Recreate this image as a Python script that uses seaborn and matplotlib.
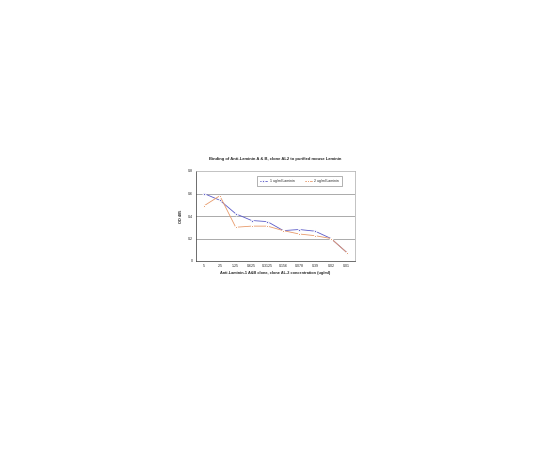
import pandas as pd
import matplotlib
matplotlib.use('Agg')
import matplotlib.pyplot as plt
import seaborn as sns

concentrations = ['5', '2.5', '1.25', '0.625', '0.3125', '0.156', '0.078', '0.39', '0.02', '0.01']
laminin_1ug = [0.60, 0.54, 0.42, 0.36, 0.35, 0.27, 0.28, 0.265, 0.20, 0.075]
laminin_2ug = [0.49, 0.58, 0.30, 0.31, 0.31, 0.27, 0.24, 0.225, 0.20, 0.075]
series_names = ['1 ug/ml Laminin', '2 ug/ml Laminin']
y_ticks = [0, 0.2, 0.4, 0.6, 0.8]

rows = []
for i, c in enumerate(concentrations):
    rows.append({'pos': i, 'conc': c, 'OD': laminin_1ug[i], 'series': series_names[0]})
    rows.append({'pos': i, 'conc': c, 'OD': laminin_2ug[i], 'series': series_names[1]})
df = pd.DataFrame(rows)

sns.set_style('white')
plt.rcParams['font.family'] = ['Liberation Sans', 'DejaVu Sans']

fig = plt.figure(figsize=(5.4, 4.5), dpi=100)
ax = fig.add_axes([0.363, 0.42, 0.294, 0.20])

sns.lineplot(data=df, x='pos', y='OD', hue='series', style='series',
             palette=['#5a5ac8', '#e89a6a'], markers=['D', 's'], dashes=False,
             markersize=1.6, linewidth=0.6, ax=ax)

ax.set_xlim(-0.5, len(concentrations) - 0.5)
ax.set_ylim(0, 0.8)
ax.set_yticks(y_ticks)
ax.set_yticklabels(['0', '0.2', '0.4', '0.6', '0.8'], fontsize=2.6)
ax.set_xticks(range(len(concentrations)))
ax.set_xticklabels(concentrations, fontsize=2.6)
ax.tick_params(axis='both', length=1, width=0.4, pad=1.5)
for y in [0.2, 0.4, 0.6]:
    ax.axhline(y, color='#888888', linewidth=0.5, zorder=0)

for side in ['top', 'right']:
    ax.spines[side].set_color('#aaaaaa')
    ax.spines[side].set_linewidth(0.5)
for side in ['left', 'bottom']:
    ax.spines[side].set_color('#333333')
    ax.spines[side].set_linewidth(0.5)

ax.set_xlabel('Anti-Laminin-1 A&B clone, clone AL-2 concentration (ug/ml)',
              fontsize=2.8, fontweight='bold', labelpad=2)
ax.set_ylabel('OD 405', fontsize=2.8, fontweight='bold', labelpad=3)
ax.set_title('Binding of Anti-Laminin A & B, clone AL2 to purified mouse Laminin',
             fontsize=3, fontweight='bold', pad=8)

leg = ax.legend(loc='upper right', bbox_to_anchor=(0.93, 0.96), ncol=2, fontsize=2.5,
                frameon=True, edgecolor='#555555', fancybox=False,
                handlelength=2, columnspacing=3, borderpad=0.8)
leg.get_frame().set_linewidth(0.4)

fig.savefig('out.png', dpi=100, facecolor='white')
